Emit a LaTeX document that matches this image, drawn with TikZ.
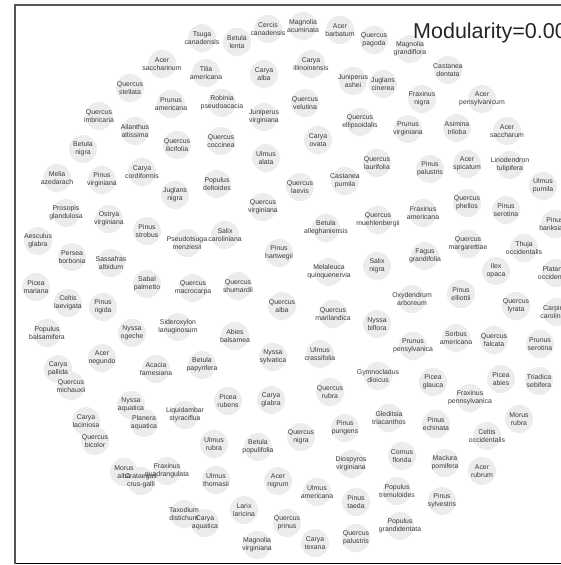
\documentclass[tikz,border=0pt]{standalone}
\usepackage{fontspec}
\setmainfont{Liberation Sans}
\definecolor{nodegrey}{RGB}{236,236,236}
\definecolor{labelgrey}{RGB}{60,60,60}
\definecolor{framegrey}{RGB}{85,85,85}
\definecolor{baseline}{RGB}{205,205,205}
\usetikzlibrary{positioning}

% species: name/x/y/label, in pixel units of the layout
\def\specieslist{
tsucan/202/38/{Tsuga\\canadensis}, betlen/237/42/{Betula\\lenta},
cercan/268/29/{Cercis\\canadensis}, magacu/303/26/{Magnolia\\acuminata},
acebar/340/30/{Acer\\barbatum}, qupag/374/40/{Quercus\\pagoda},
maggra/410/49/{Magnolia\\grandiflora}, acesacn/162/64/{Acer\\saccharinum},
tilame/206/73/{Tilia\\americana}, caralb/264/74/{Carya\\alba},
carill/311/64/{Carya\\illinoinensis}, junash/353/81/{Juniperus\\ashei},
jugcin/383/84/{Juglans\\cinerea}, casden/448/70/{Castanea\\dentata},
quste/130/88/{Quercus\\stellata}, pruame/171/104/{Prunus\\americana},
robpse/222/103/{Robinia\\pseudoacacia}, quvel/305/103/{Quercus\\velutina},
franig/422/99/{Fraxinus\\nigra}, acepen/482/99/{Acer\\pensylvanicum},
quimb/99/116/{Quercus\\imbricaria}, ailalt/135/131/{Ailanthus\\altissima},
junvir/264/117/{Juniperus\\virginiana}, quell/360/122/{Quercus\\ellipsoidalis},
pruvir/408/129/{Prunus\\virginiana}, asitri/457/128/{Asimina\\triloba},
acesac/507/131/{Acer\\saccharum}, betnig/83/149/{Betula\\nigra},
quili/177/145/{Quercus\\ilicifolia}, qucoc/221/141/{Quercus\\coccinea},
carova/318/140/{Carya\\ovata}, ulmala/266/158/{Ulmus\\alata},
qulau/377/163/{Quercus\\laurifolia}, pinpal/430/169/{Pinus\\palustris},
acespi/467/164/{Acer\\spicatum}, lirtul/510/165/{Liriodendron\\tulipifera},
melaze/57/178/{Melia\\azedarach}, pinvir/102/180/{Pinus\\virginiana},
carcor/142/172/{Carya\\cordiformis}, popdel/217/184/{Populus\\deltoides},
qulae/300/187/{Quercus\\laevis}, caspum/345/181/{Castanea\\pumila},
ulmpum/543/186/{Ulmus\\pumila}, jugnig/175/195/{Juglans\\nigra},
quvir/263/207/{Quercus\\virginiana}, quphe/467/203/{Quercus\\phellos},
pinser/506/210/{Pinus\\serotina}, fraame/423/213/{Fraxinus\\americana},
qumue/378/220/{Quercus\\muehlenbergii}, betall/326/228/{Betula\\alleghaniensis},
progla/66/213/{Prosopis\\glandulosa}, ostvir/109/219/{Ostrya\\virginiana},
pinstr/147/231/{Pinus\\strobus}, salcar/225/235/{Salix\\caroliniana},
psemen/187/243/{Pseudotsuga\\menziesii}, pinban/555/224/{Pinus\\banksiana},
thuocc/524/248/{Thuja\\occidentalis}, qumar/468/244/{Quercus\\margarettiae},
faggra/425/256/{Fagus\\grandifolia}, aesgla/38/241/{Aesculus\\glabra},
perbor/72/257/{Persea\\borbonia}, sasalb/111/263/{Sassafras\\albidum},
pinhar/279/253/{Pinus\\hartwegii}, melqui/329/272/{Melaleuca\\quinquenervia},
salnig/377/266/{Salix\\nigra}, ileopa/496/271/{Ilex\\opaca},
plaocc/556/273/{Platanus\\occidentalis}, picmar/36/287/{Picea\\mariana},
sabpal/147/284/{Sabal\\palmetto}, qumac/193/288/{Quercus\\macrocarpa},
qushu/238/286/{Quercus\\shumardii}, oxyarb/412/299/{Oxydendrum\\arboreum},
pinell/461/294/{Pinus\\elliottii}, cellae/68/303/{Celtis\\laevigata},
pinrig/103/307/{Pinus\\rigida}, qualb/282/306/{Quercus\\alba},
qumari/333/314/{Quercus\\marilandica}, qulyr/516/306/{Quercus\\lyrata},
carcar/557/312/{Carpinus\\caroliniana}, popbal/47/333/{Populus\\balsamifera},
nysoge/132/333/{Nyssa\\ogeche}, sidlan/178/327/{Sideroxylon\\lanuginosum},
abibal/235/336/{Abies\\balsamea}, nysbif/377/324/{Nyssa\\biflora},
prupen/413/346/{Prunus\\pensylvanica}, sorame/456/338/{Sorbus\\americana},
qufal/494/340/{Quercus\\falcata}, pruser/540/344/{Prunus\\serotina},
aceneg/102/358/{Acer\\negundo}, carpal/58/369/{Carya\\pallida},
acafar/156/369/{Acacia\\farnesiana}, betpap/202/365/{Betula\\papyrifera},
nyssyl/273/357/{Nyssa\\sylvatica}, ulmcra/320/354/{Ulmus\\crassifolia},
gymdio/378/376/{Gymnocladus\\dioicus}, qumic/71/386/{Quercus\\michauxii},
picgla/433/382/{Picea\\glauca}, picabi/501/379/{Picea\\abies},
trised/539/381/{Triadica\\sebifera}, frapen/470/398/{Fraxinus\\pennsylvanica},
nysaqu/131/405/{Nyssa\\aquatica}, carlac/86/421/{Carya\\laciniosa},
plaaqu/144/423/{Planera\\aquatica}, liqsty/185/415/{Liquidambar\\styraciflua},
picrub/228/401/{Picea\\rubens}, cargla/271/400/{Carya\\glabra},
qurub/330/392/{Quercus\\rubra}, gletri/389/418/{Gleditsia\\triacanthos},
pinech/436/424/{Pinus\\echinata}, morrub/519/419/{Morus\\rubra},
celocc/487/436/{Celtis\\occidentalis}, qubic/95/441/{Quercus\\bicolor},
ulmrub/214/444/{Ulmus\\rubra}, betpop/258/447/{Betula\\populifolia},
qunig/301/437/{Quercus\\nigra}, pinpun/345/428/{Pinus\\pungens},
corflo/402/456/{Cornus\\florida}, diovir/351/464/{Diospyros\\virginiana},
macpom/445/463/{Maclura\\pomifera}, acerub/482/471/{Acer\\rubrum},
moralb/124/472/{Morus\\alba}, cracru/141/481/{Crataegus\\crus-galli},
fraqua/167/471/{Fraxinus\\quadrangulata}, ulmtho/216/480/{Ulmus\\thomasii},
acenig/278/481/{Acer\\nigrum}, ulmame/317/492/{Ulmus\\americana},
pintae/356/502/{Pinus\\taeda}, poptre/397/491/{Populus\\tremuloides},
pinsyl/442/501/{Pinus\\sylvestris}, taxdis/184/514/{Taxodium\\distichum},
caraqu/205/523/{Carya\\aquatica}, larlar/244/510/{Larix\\laricina},
qupri/287/523/{Quercus\\prinus}, cartex/315/543/{Carya\\texana},
qupal/356/538/{Quercus\\palustris}, popgra/400/526/{Populus\\grandidentata},
magvir/257/545/{Magnolia\\virginiana}}

\begin{document}
\begin{tikzpicture}[x=1pt, y=-1pt,
    species/.style={inner sep=0pt, align=center, text=labelgrey,
        font=\fontsize{6.9}{8.4}\selectfont}]
    \useasboundingbox (0,0) rectangle (561,565);
    \fill[white] (0,0) rectangle (561,565);

    % frame
    \draw[baseline, line width=1.4pt] (15,563.5) -- (561,563.5);
    \draw[framegrey, line width=1.7pt] (15,563.5) -- (15,5) -- (561,5);

    % soft discs first, so that every label stays on top
    \foreach \nm/\px/\py/\txt in \specieslist
        \fill[nodegrey] (\px,\py) circle (14);

    \foreach \nm/\px/\py/\txt in \specieslist
        \node[species] (\nm) at (\px,\py) {\txt};

    \node[anchor=base west, inner sep=0pt, text=black!85,
        font=\fontsize{21.5}{25}\selectfont] (modularity) at (413,38) {Modularity=0.00};
\end{tikzpicture}
\end{document}
